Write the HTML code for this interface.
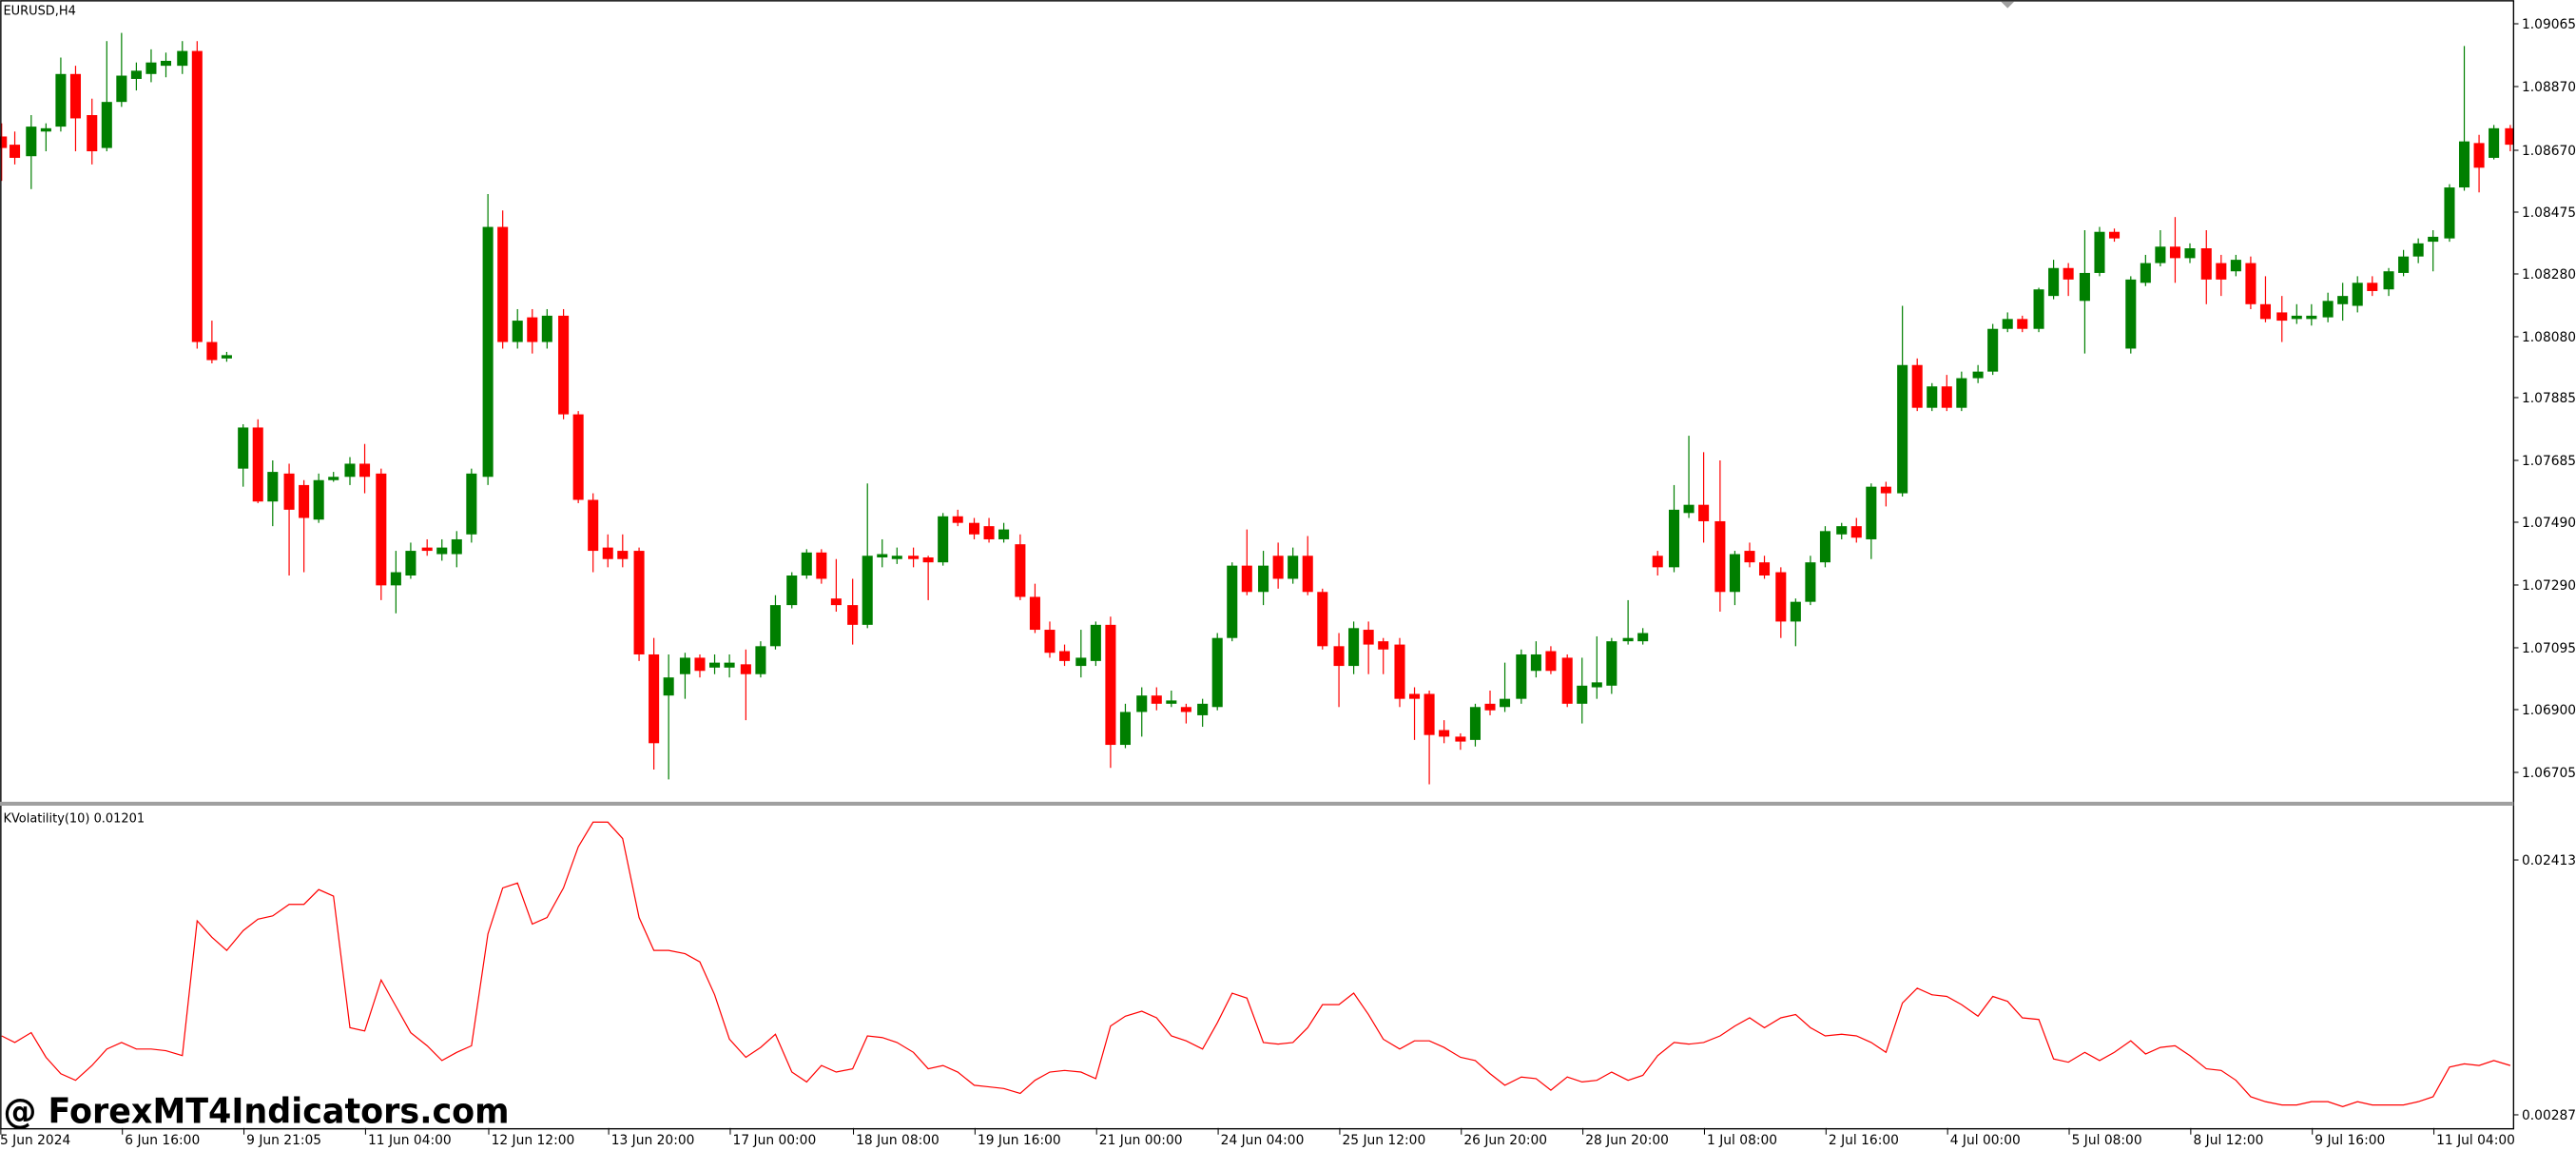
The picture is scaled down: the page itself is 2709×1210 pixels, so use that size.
<!DOCTYPE html>
<html><head><meta charset="utf-8"><style>
html,body{margin:0;padding:0;background:#fff;}
svg{display:block;}
text{font-family:"DejaVu Sans","Liberation Sans",sans-serif;fill:#000;}
</style></head><body>
<svg id="s" width="2709" height="1210" viewBox="0 0 1568 700" preserveAspectRatio="none" xmlns="http://www.w3.org/2000/svg">
<rect x="0" y="0" width="1568" height="700" fill="#fff"/>
<g id="g"></g>
</svg>
<script>
const C=[[1,'r',83,90,75,110],[9,'r',88,96,80,100],[19,'g',77,95,70,115],[28,'g',78,80,75,92],[37,'g',45,77,35,80],[46,'r',45,72,40,92],[56,'r',70,92,60,100],[65,'g',62,90,25,92],[74,'g',46,62,20,65],[83,'g',43,48,38,55],[92,'g',38,45,30,50],[101,'g',37,40,32,47],[111,'g',31,40,25,45],[120,'r',31,208,25,212],[129,'r',208,219,195,221],[138,'g',216,218,214,220],[148,'g',260,285,258,296],[157,'r',260,305,255,306],[166,'g',287,305,280,320],[176,'r',288,310,282,350],[185,'r',295,315,292,348],[194,'g',292,316,288,318],[203,'g',290,292,287,293],[213,'g',282,290,278,295],[222,'r',282,290,270,300],[232,'r',288,356,285,365],[241,'g',348,356,335,373],[250,'g',335,350,330,352],[260,'r',333,335,328,338],[269,'g',333,337,328,341],[278,'g',328,337,323,345],[287,'g',288,325,285,330],[297,'g',138,290,118,295],[306,'r',138,208,128,212],[315,'g',195,208,188,212],[324,'r',193,208,188,215],[333,'g',192,208,188,212],[343,'r',192,252,188,255],[352,'r',252,304,250,306],[361,'r',304,335,300,348],[370,'r',333,340,325,345],[379,'r',335,340,325,345],[389,'r',335,398,333,402],[398,'r',398,452,388,468],[407,'g',412,423,398,474],[417,'g',400,410,397,425],[426,'r',400,408,398,412],[435,'g',403,406,398,410],[444,'g',403,406,398,412],[454,'r',404,410,395,438],[463,'g',393,410,390,412],[472,'g',368,393,362,395],[482,'g',350,368,348,370],[491,'g',336,350,334,352],[500,'r',336,352,334,355],[509,'r',364,368,340,372],[519,'r',368,380,352,392],[528,'g',338,380,294,382],[537,'g',337,339,328,345],[546,'g',338,340,333,343],[556,'r',338,340,333,345],[565,'r',339,342,338,365],[574,'g',314,342,312,344],[583,'r',314,318,310,320],[593,'r',318,325,315,328],[602,'r',320,328,315,330],[611,'g',322,328,318,330],[621,'r',331,363,325,365],[630,'r',363,383,355,385],[639,'r',383,397,378,400],[648,'r',396,402,392,405],[658,'g',400,405,383,412],[667,'g',380,402,378,405],[676,'r',380,453,375,467],[685,'g',433,453,428,455],[695,'g',423,433,418,448],[704,'r',423,428,418,432],[713,'g',426,428,420,430],[722,'r',430,433,428,440],[732,'g',428,435,425,442],[741,'g',388,430,385,432],[750,'g',344,388,342,390],[759,'r',344,360,322,362],[769,'g',344,360,335,368],[778,'r',338,352,330,358],[787,'g',338,352,333,355],[796,'r',338,360,326,362],[805,'r',360,393,358,395],[815,'r',393,405,385,430],[824,'g',382,405,378,410],[833,'r',383,392,378,410],[842,'r',390,395,388,410],[852,'r',392,425,388,430],[861,'r',422,425,418,450],[870,'r',422,447,420,477],[879,'r',444,448,438,452],[889,'r',448,451,446,456],[898,'g',430,450,428,454],[907,'r',428,432,420,435],[916,'g',425,430,403,433],[926,'g',398,425,395,428],[935,'g',398,408,390,412],[944,'r',396,408,393,410],[954,'r',400,428,398,430],[963,'g',417,428,400,440],[972,'g',415,418,387,425],[981,'g',390,417,388,422],[991,'g',388,390,365,392],[1000,'g',385,390,382,392],[1009,'r',338,345,335,350],[1019,'g',310,345,295,348],[1028,'g',307,312,265,315],[1037,'r',307,317,275,330],[1047,'r',317,360,280,372],[1056,'g',337,360,335,368],[1065,'r',335,342,330,345],[1074,'r',342,350,338,352],[1084,'r',348,378,345,388],[1093,'g',366,378,364,393],[1102,'g',342,366,338,368],[1111,'g',323,342,320,345],[1121,'g',320,325,318,328],[1130,'r',320,327,315,330],[1139,'g',296,328,294,340],[1148,'r',296,300,293,308],[1158,'g',222,300,186,302],[1167,'r',222,248,218,250],[1176,'g',235,248,233,250],[1185,'r',235,248,228,250],[1194,'g',230,248,226,250],[1204,'g',226,230,222,233],[1213,'g',200,226,197,228],[1222,'g',194,200,190,202],[1231,'r',194,200,192,202],[1241,'g',176,200,175,202],[1250,'g',163,180,158,182],[1259,'r',163,170,160,180],[1269,'g',166,183,140,215],[1278,'g',141,166,138,168],[1287,'r',141,145,139,147],[1297,'g',170,212,168,215],[1306,'g',160,172,155,174],[1315,'g',150,160,140,162],[1324,'r',150,157,132,172],[1333,'g',151,157,148,160],[1343,'r',151,170,140,185],[1352,'r',160,170,155,180],[1361,'g',158,165,155,168],[1370,'r',160,185,156,188],[1379,'r',185,194,168,196],[1389,'r',190,195,180,208],[1398,'g',192,194,185,197],[1407,'g',192,194,185,198],[1417,'g',183,193,178,196],[1426,'g',180,185,172,195],[1435,'g',172,186,168,190],[1444,'r',172,177,168,180],[1454,'g',165,176,163,180],[1463,'g',156,166,152,168],[1472,'g',148,156,145,160],[1481,'g',144,147,140,165],[1491,'g',114,145,112,147],[1500,'g',86,114,28,116],[1509,'r',87,102,82,117],[1518,'g',78,96,76,97],[1528,'r',78,88,76,92]];
const L=[630,634,628,643,653,657,648,638,634,638,638,639,642,560,570,578,566,559,557,550,550,541,545,625,627,596,612,628,636,645,640,636,568,540,537,562,558,540,515,500,500,510,558,578,578,580,585,605,632,643,637,629,652,658,648,652,650,630,631,634,640,650,648,652,660,661,662,665,657,652,651,652,656,624,618,615,619,630,633,638,622,604,607,634,635,634,625,611,611,604,617,632,638,633,633,637,643,645,653,660,655,656,663,655,658,657,652,657,654,642,634,635,634,630,624,619,625,619,617,625,630,629,630,634,640,610,601,605,606,611,618,606,609,619,620,644,646,640,645,640,633,641,637,636,642,650,651,657,667,670,672,672,670,670,673,670,672,672,672,670,667,649,647,648,645,648];
let h='';
h+='<defs><clipPath id="cp"><rect x="0" y="0" width="1530" height="488"/></clipPath><clipPath id="cp2"><rect x="0" y="490" width="1530" height="196"/></clipPath></defs>';
h+='<g clip-path="url(#cp)">';
for(const c of C){const col=c[1]=='g'?'#007f00':'#ff0000';let bt=c[2],bb=c[3];if(bb-bt<1.2){bb=bt+1.2;}
h+=`<line x1="${c[0]}" x2="${c[0]}" y1="${c[4]}" y2="${c[5]}" stroke="${col}" stroke-width="0.7"/>`;
h+=`<rect x="${c[0]-3.2}" y="${bt}" width="6.4" height="${bb-bt}" fill="${col}"/>`;}
h+='</g>';
let pts=L.map((v,i)=>C[i][0]+','+v).join(' ');
h+=`<polyline clip-path="url(#cp2)" points="${pts}" fill="none" stroke="#ff0000" stroke-width="0.7"/>`;
h+='<rect x="0.5" y="0.5" width="1529.5" height="686" fill="none" stroke="#000" stroke-width="0.8"/>';
h+='<rect x="0" y="487.6" width="1530" height="2.4" fill="#a0a0a0"/>';
h+='<polygon points="1218,1 1226,1 1222,5" fill="#a0a0a0"/>';
const P=[['1.09065',25],['1.08870',91],['1.08670',158],['1.08475',223],['1.08280',288],['1.08080',354],['1.07885',418],['1.07685',484],['1.07490',549],['1.07290',615],['1.07095',681],['1.06900',746],['1.06705',812]];
for(const p of P){const y=p[1]/1.7286;h+=`<line x1="1530" x2="1533" y1="${y}" y2="${y}" stroke="#000" stroke-width="0.6"/><text x="1535" y="${y+2.8}" font-size="8">${p[0]}</text>`;}
h+=`<line x1="1530" x2="1533" y1="523" y2="523" stroke="#000" stroke-width="0.6"/><text x="1535" y="525.8" font-size="8">0.02413</text>`;
h+=`<line x1="1530" x2="1533" y1="678" y2="678" stroke="#000" stroke-width="0.6"/><text x="1535" y="680.8" font-size="8">0.00287</text>`;
const T=[[0,'5 Jun 2024'],[74,'6 Jun 16:00'],[148,'9 Jun 21:05'],[222,'11 Jun 04:00'],[297,'12 Jun 12:00'],[370,'13 Jun 20:00'],[444,'17 Jun 00:00'],[519,'18 Jun 08:00'],[593,'19 Jun 16:00'],[667,'21 Jun 00:00'],[741,'24 Jun 04:00'],[815,'25 Jun 12:00'],[889,'26 Jun 20:00'],[963,'28 Jun 20:00'],[1037,'1 Jul 08:00'],[1111,'2 Jul 16:00'],[1185,'4 Jul 00:00'],[1259,'5 Jul 08:00'],[1333,'8 Jul 12:00'],[1407,'9 Jul 16:00'],[1481,'11 Jul 04:00']];
for(const t of T){h+=`<line x1="${t[0]+0.5}" x2="${t[0]+0.5}" y1="686" y2="690" stroke="#000" stroke-width="0.6"/><text x="${t[0]+(t[0]?2:0)}" y="696" font-size="8">${t[1]}</text>`;}
h+='<text x="2" y="9" font-size="7.5">EURUSD,H4</text>';
h+='<text x="2" y="500" font-size="7.5">KVolatility(10) 0.01201</text>';
h+='<text x="2" y="683" font-size="21" font-weight="bold" font-family="Liberation Sans,sans-serif" textLength="308" lengthAdjust="spacingAndGlyphs">@ ForexMT4Indicators.com</text>';
document.getElementById('g').innerHTML=h;
</script>
</body></html>
